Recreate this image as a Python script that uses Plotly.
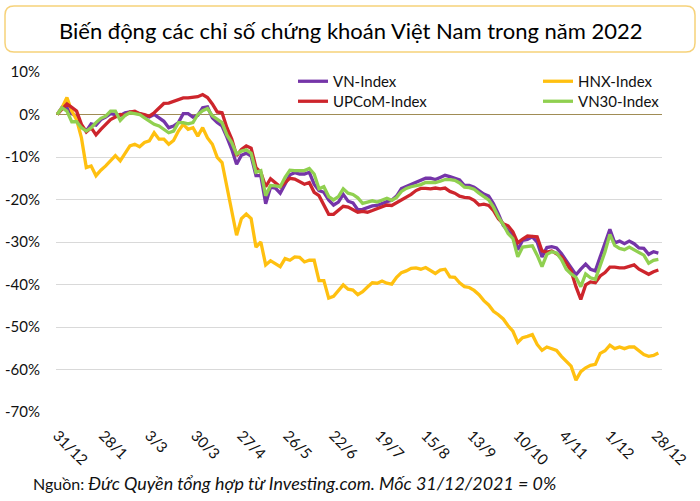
import plotly.graph_objects as go

W, H = 700, 501
L, R, T, B = 56, 38, 72, 89  # plot area in px: x 56..662, y 72..412

# ---------------- data (values in %, one value every 2 trading days from 31/12/2021) ----------------
vn_index = [
    0, 1.7, 1.6, 0.2, -0.4, -2.7, -3.9, -2.2, -2.5, -1.2, -0.6, 0.2, 0, -0.2, 0.4, 0.6,
    0.4, 0.2, -0.2, -0.6, 0, -0.9, -1.6, -3.1, -2.7, -1.9, 0.2, 0.2, -0.6, -0.2, 1.6, 1.8,
    -0.8, -1.9, -2.7, -5.3, -8.2, -11.7, -9.6, -9.1, -9.8, -14.4, -14.4, -21.0, -17.1, -17.3, -18.5, -16.4,
    -14.2, -13.7, -14.0, -14.0, -13.6, -16.4, -17.9, -18.3, -20.1, -21.3, -20.6, -18.8, -20.4, -20.8, -22.4, -22.3,
    -21.8, -21.5, -21.4, -20.9, -20.5, -20.2, -19.2, -17.4, -16.9, -16.4, -16.1, -15.6, -15.0, -15.0, -15.3, -14.8,
    -14.3, -14.6, -14.9, -15.4, -16.7, -16.7, -17.1, -17.9, -18.7, -19.2, -21.0, -23.4, -26.1, -27.4, -28.4, -31.8,
    -29.6, -29.4, -28.8, -30.0, -33.5, -31.3, -31.1, -31.4, -32.7, -34.4, -36.2, -37.7, -36.4, -35.2, -36.4, -36.8,
    -33.5, -30.4, -27.0, -30.2, -29.8, -30.4, -29.8, -30.4, -31.4, -31.5, -32.9, -32.3, -32.6,
]
hnx_index = [
    0, 1.6, 4.0, 0.8, -1.2, -5.5, -12.5, -12.1, -14.4, -13.1, -12.1, -10.9, -9.7, -10.9, -9.3, -7.4,
    -7.0, -7.6, -6.6, -6.2, -4.3, -5.8, -5.8, -7.0, -6.1, -3.9, -2.3, -3.5, -3.1, -5.1, -3.1, -5.5,
    -7.0, -10.1, -11.3, -17.1, -22.6, -28.4, -24.5, -23.4, -24.5, -31.2, -30.0, -35.4, -34.4, -35.2, -35.8, -33.9,
    -34.3, -33.5, -33.6, -34.7, -34.3, -34.3, -39.1, -39.1, -43.2, -42.8, -41.3, -40.1, -41.1, -41.3, -42.4, -41.7,
    -40.6, -39.6, -39.7, -39.2, -39.7, -39.9, -38.3, -37.2, -36.8, -36.2, -36.1, -36.4, -36.0, -36.6, -37.4, -36.6,
    -36.4, -38.2, -38.3, -39.6, -40.5, -40.7, -41.4, -42.4, -43.8, -44.8, -46.3, -47.1, -48.1, -49.7, -51.0, -53.6,
    -52.5, -52.2, -51.8, -54.1, -55.5, -54.7, -55.1, -55.5, -56.9, -58.0, -59.2, -62.5, -60.5, -59.6, -59.0, -58.8,
    -56.2, -55.6, -54.3, -55.1, -54.7, -55.1, -54.7, -54.7, -55.5, -56.5, -56.9, -56.7, -56.1,
]
upcom_index = [
    0, 1.2, 2.5, 1.7, 0.8, -2.3, -4.1, -3.1, -4.8, -3.5, -2.3, -1.2, -0.6, 0, -0.2, 0.6,
    0.8, 0.2, 0, -0.4, 0.4, 1.4, 2.6, 2.7, 3.1, 3.3, 3.9, 3.9, 4.0, 4.2, 4.7, 4.0,
    2.5, 0.6, 0.4, -3.1, -5.8, -9.7, -8.2, -7.4, -7.9, -12.5, -13.6, -17.0, -15.1, -16.0, -17.0, -16.0,
    -15.0, -15.2, -15.7, -16.4, -16.0, -18.3, -19.1, -21.4, -23.5, -23.5, -22.6, -21.6, -21.8, -22.4, -23.0, -22.8,
    -23.0, -22.6, -22.2, -21.8, -21.3, -21.4, -20.8, -20.2, -19.6, -18.8, -17.9, -17.4, -17.4, -17.5, -17.3, -17.5,
    -17.3, -18.1, -18.5, -19.2, -19.5, -19.6, -20.2, -21.3, -21.1, -21.4, -22.6, -24.5, -25.7, -26.2, -27.6, -30.2,
    -29.3, -28.6, -28.7, -28.8, -32.1, -32.4, -32.1, -32.7, -33.5, -34.9, -36.8, -40.5, -43.5, -40.1, -39.4, -39.6,
    -38.0, -37.2, -35.9, -35.9, -36.1, -36.1, -35.7, -35.4, -36.4, -37.0, -37.6, -37.0, -36.6,
]
vn30_index = [
    0, 1.6, 0.8, -1.7, -1.7, -3.1, -3.9, -3.1, -1.9, -0.9, -0.4, 0.8, 0.8, -1.4, -0.2, 0.4,
    0.2, 0, -0.8, -1.6, -2.3, -2.7, -3.5, -4.3, -3.9, -1.9, -1.9, -2.2, -1.9, 0, 0.9, 1.4,
    -0.3, -1.2, -1.9, -4.8, -6.6, -9.3, -8.6, -8.3, -9.1, -13.6, -13.2, -19.1, -16.7, -16.8, -17.0, -14.8,
    -13.1, -13.2, -13.2, -13.2, -12.7, -14.0, -17.5, -17.0, -19.3, -20.1, -19.3, -17.5, -18.5, -18.8, -19.6, -20.9,
    -20.6, -20.3, -20.6, -20.1, -19.7, -20.2, -19.5, -18.1, -17.4, -17.0, -16.8, -16.5, -16.0, -16.0, -16.0, -15.7,
    -15.3, -15.3, -15.5, -16.1, -17.1, -17.2, -17.6, -18.5, -19.2, -20.1, -21.8, -24.1, -25.9, -28.0, -29.2, -33.5,
    -31.2, -31.0, -30.9, -33.1, -35.8, -32.9, -32.3, -32.6, -34.1, -36.4, -37.5, -38.3, -40.5, -37.5, -38.4, -38.8,
    -35.8, -32.3, -28.2, -30.8, -31.5, -31.8, -31.2, -31.8, -32.6, -33.1, -35.0, -34.3, -34.1,
]
trading_days = list(range(0, 2 * len(vn_index), 2))

tick_days = [0, 19, 38, 57, 76, 95, 114, 133, 152, 171, 190, 209, 228, 247]
tick_labels = ["31/12", "28/1", "3/3", "30/3", "27/4", "26/5", "22/6",
               "19/7", "15/8", "13/9", "10/10", "4/11", "1/12", "28/12"]
y_ticks = [10, 0, -10, -20, -30, -40, -50, -60, -70]
y_tick_labels = ["10%", "0%", "-10%", "-20%", "-30%", "-40%", "-50%", "-60%", "-70%"]

series = [
    ("VN-Index", vn_index, "#7535A8", "legend"),
    ("HNX-Index", hnx_index, "#FFC010", "legend"),
    ("UPCoM-Index", upcom_index, "#CD252C", "legend2"),
    ("VN30-Index", vn30_index, "#90D050", "legend2"),
]

FONT = "Lato, 'Open Sans', sans-serif"
PW, PH = W - L - R, H - T - B


def px2x(px):
    return (px - L) / PW


def py2y(py):
    return (H - B - py) / PH


fig = go.Figure()
for name, vals, color, leg in series:
    fig.add_trace(go.Scatter(
        x=trading_days, y=vals, name=name, mode="lines",
        line=dict(color=color, width=3.3), legend=leg,
    ))

# rounded title box
x0, x1, y0, y1, r = 5, 695, 6, 52, 9
pts = [
    f"M {px2x(x0 + r)},{py2y(y0)}",
    f"L {px2x(x1 - r)},{py2y(y0)}",
    f"Q {px2x(x1)},{py2y(y0)} {px2x(x1)},{py2y(y0 + r)}",
    f"L {px2x(x1)},{py2y(y1 - r)}",
    f"Q {px2x(x1)},{py2y(y1)} {px2x(x1 - r)},{py2y(y1)}",
    f"L {px2x(x0 + r)},{py2y(y1)}",
    f"Q {px2x(x0)},{py2y(y1)} {px2x(x0)},{py2y(y1 - r)}",
    f"L {px2x(x0)},{py2y(y0 + r)}",
    f"Q {px2x(x0)},{py2y(y0)} {px2x(x0 + r)},{py2y(y0)}",
    "Z",
]
fig.add_shape(type="path", xref="paper", yref="paper", path=" ".join(pts),
              line=dict(color="#F6D27A", width=1.5), fillcolor="rgba(0,0,0,0)", layer="above")

fig.add_annotation(
    text="Biến động các chỉ số chứng khoán Việt Nam trong năm 2022",
    xref="paper", yref="paper", x=px2x(350), y=py2y(30), xanchor="center", yanchor="middle",
    showarrow=False, font=dict(family=FONT, size=22, color="#000000"),
)
fig.add_annotation(
    text="Nguồn: <span style='font-size:17.9px'><i>Đức Quyền tổng hợp từ Investing.com. Mốc 31/12/2021 = 0%</i></span>",
    xref="paper", yref="paper", x=px2x(31), y=py2y(483), xanchor="left", yanchor="middle",
    showarrow=False, font=dict(family=FONT, size=16, color="#111111"),
)

legend_common = dict(
    orientation="h", xanchor="left", yanchor="top", entrywidth=200, entrywidthmode="pixels",
    bgcolor="rgba(0,0,0,0)", font=dict(family=FONT, size=15, color="#111111"),
    itemwidth=30, tracegroupgap=0,
)

fig.update_layout(
    width=W, height=H,
    margin=dict(l=L, r=R, t=T, b=B, autoexpand=False),
    paper_bgcolor="white", plot_bgcolor="white",
    font=dict(family=FONT, size=15, color="#111111"),
    showlegend=True,
    legend=dict(x=px2x(293), y=py2y(65), **legend_common),
    legend2=dict(x=px2x(293), y=py2y(85), **legend_common),
    xaxis=dict(
        range=[-0.5, 249.5], tickvals=tick_days, ticktext=tick_labels, tickangle=45,
        showgrid=False, zeroline=False, showline=False,
        ticks="outside", ticklen=8, tickcolor="rgba(0,0,0,0)",
        tickfont=dict(family=FONT, size=15, color="#111111"),
    ),
    yaxis=dict(
        range=[-70, 10], tickvals=y_ticks, ticktext=y_tick_labels,
        showgrid=True, gridcolor="#D9D9D9", gridwidth=1,
        zeroline=True, zerolinecolor="#A08C55", zerolinewidth=1.2, showline=False,
        ticks="outside", ticklen=12, tickcolor="rgba(0,0,0,0)",
        tickfont=dict(family=FONT, size=15, color="#111111"),
    ),
)

fig.write_html("out.html", config={"displayModeBar": False},
               post_script="document.body.style.margin='0';")
